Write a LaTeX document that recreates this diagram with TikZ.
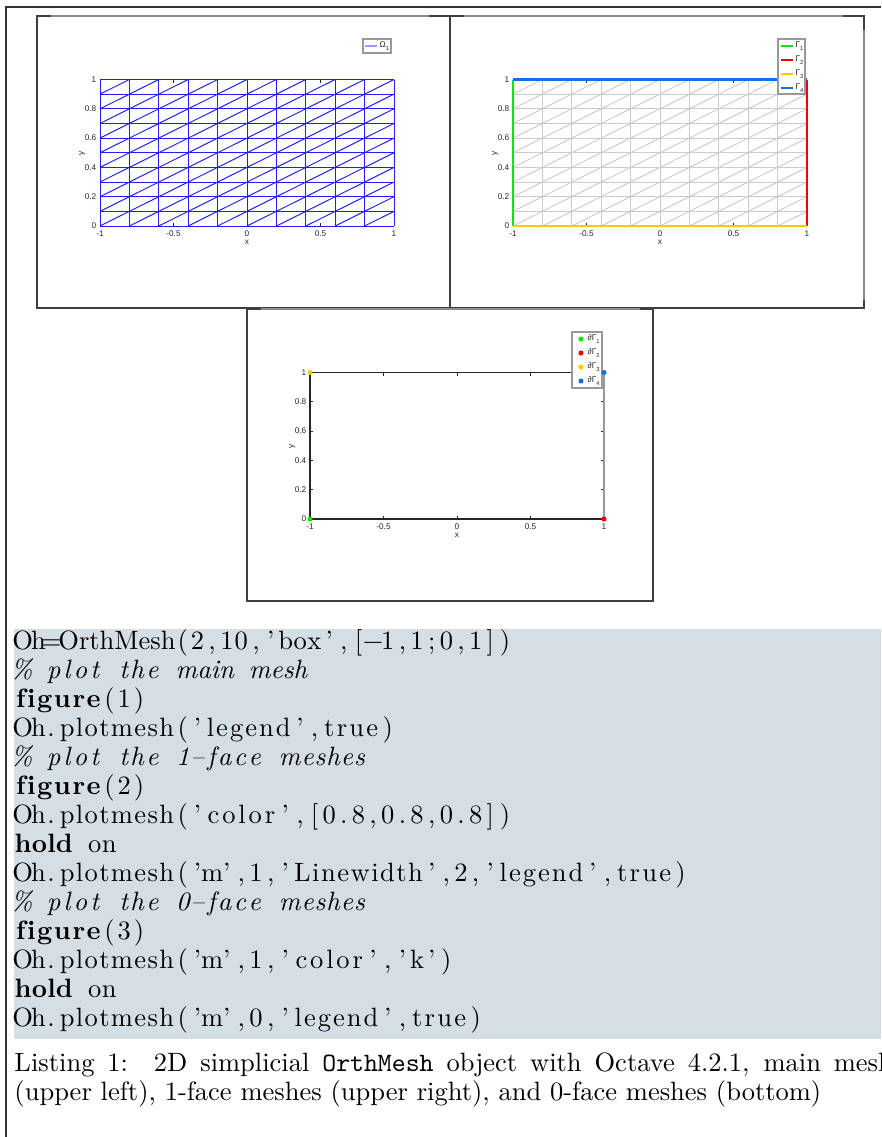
\documentclass[tikz,border=0pt]{standalone}
\usepackage{fontspec}
\usepackage{xcolor}
\usetikzlibrary{positioning}
\newfontfamily\plotfont{Liberation Sans}
\definecolor{omInk}{RGB}{38,38,38}
\definecolor{omBlue}{RGB}{30,30,255}
\definecolor{omGray}{RGB}{204,204,204}
\definecolor{omGreen}{RGB}{0,235,0}
\definecolor{omRed}{RGB}{245,0,0}
\definecolor{omGold}{RGB}{255,200,0}
\definecolor{omSky}{RGB}{20,110,235}
\definecolor{omCode}{RGB}{213,221,229}

% listings-like fixed columns: a word fills n columns, other chars one each
\ExplSyntaxOn
\dim_new:N \l_om_bw_dim
\dim_set:Nn \l_om_bw_dim { 6.05pt }
\tl_new:N \l_om_word_tl
\int_new:N \l_om_n_int
\cs_new_protected:Npn \om_flush:
  {
    \int_compare:nNnT { \l_om_n_int } > { 0 }
      { \hbox_to_wd:nn { \l_om_n_int \l_om_bw_dim } { \l_om_word_tl \hss } }
    \tl_clear:N \l_om_word_tl
    \int_zero:N \l_om_n_int
  }
\NewDocumentCommand \fixcols { m }
  {
    \tl_clear:N \l_om_word_tl
    \int_zero:N \l_om_n_int
    \str_map_inline:nn {#1}
      {
        \str_if_in:nnTF
          { abcdefghijklmnopqrstuvwxyzABCDEFGHIJKLMNOPQRSTUVWXYZ0123456789 }
          { ##1 }
          { \tl_put_right:Nn \l_om_word_tl { \hss ##1 } \int_incr:N \l_om_n_int }
          { \om_flush: \hbox_to_wd:nn { \l_om_bw_dim } { \hss ##1 \hss } }
      }
    \om_flush:
  }
\ExplSyntaxOff
\newcommand\cmtmark{\makebox[6.05pt]{\%}\hspace*{6.05pt}}

% 10x10 triangulated box, origin at its lower left corner (px units)
\newcommand\trimesh{%
  \foreach \i in {0,...,10} \draw ({29.4*\i},0) -- ({29.4*\i},-146.5);
  \foreach \j in {0,...,10} \draw (0,{-14.65*\j}) -- (294,{-14.65*\j});
  \foreach \i in {0,...,9} \foreach \j in {0,...,9}
    \draw ({29.4*\i},{-14.65*\j}) -- ({29.4*\i+29.4},{-14.65*\j-14.65});}

% ticks and tick labels of one axes: #1,#2 = px of (-1,0), #3 = prefix
\newcommand\plotaxes[3]{%
  \foreach \v [count=\k] in {-1,-0.5,0,0.5,1}{
    \draw[omInk,line width=0.3pt] ({#1+147*(\v+1)},#2) -- ++(0,-3)
         ({#1+147*(\v+1)},{#2-146.5}) -- ++(0,3);
    \node[ticklab,anchor=north] (#3x\k) at ({#1+147*(\v+1)},{#2+3}) {\v};}
  \foreach \v [count=\k] in {0,0.2,0.4,0.6,0.8,1}{
    \draw[omInk,line width=0.3pt] (#1,{#2-146.5*\v}) -- ++(3,0)
         ({#1+294},{#2-146.5*\v}) -- ++(-3,0);
    \node[ticklab,anchor=east] (#3y\k) at ({#1-2},{#2-146.5*\v}) {\v};}
  \node[ticklab,anchor=north] (#3xl) at ({#1+147},{#2+12}) {x};
  \node[ticklab,anchor=south,rotate=90] (#3yl) at ({#1-13},{#2-73}) {y};}

\begin{document}
\begin{tikzpicture}[x=0.41322pt,y=-0.41322pt,
  ticklab/.style={font=\plotfont\fontsize{3.4}{3.8}\selectfont,
                  text=omInk,inner sep=0.5pt},
  legtxt/.style={ticklab,anchor=west},
  panel/.style={draw=black!75,line width=0.45pt},
  legbox/.style={draw=black!40,line width=0.7pt,fill=white},
  bndline/.style={line width=0.85pt},
  vdot/.style={circle,fill=#1,inner sep=0pt,minimum size=2.1pt},
  code/.style={anchor=base west,inner sep=0pt,
               font=\fontsize{10.95}{12}\selectfont}]

\path[use as bounding box] (0,0) rectangle (881,1137);
\clip (0,0) rectangle (881,1137);
\fill[white] (0,0) rectangle (881,1137);

% page frame
\draw[black!80,line width=0.45pt] (881,7) -- (6,7) -- (6,1137);

% figure 1: main mesh
\draw[panel] (37,16) rectangle (450,308);
\draw[black!45,line width=0.5pt] (51,16) -- (429,16);
\plotaxes{100}{226}{a}
\begin{scope}[shift={(100,226)},omBlue,line width=0.4pt]
  \trimesh
\end{scope}
\draw[legbox] (363,39) rectangle (391,53);
\draw[omBlue!45,line width=0.6pt] (365,46) -- (377,46);
\node[legtxt] (om1) at (378,46) {Ω\textsubscript{1}};

% figure 2: 1-face meshes
\draw[panel] (450,16) rectangle (864,308);
\draw[black!45,line width=0.5pt] (464,16) -- (843,16) (864,30) -- (864,300);
\plotaxes{513}{226}{b}
\begin{scope}[shift={(513,226)},omGray,line width=0.4pt]
  \trimesh
\end{scope}
\draw[bndline,omGreen] (513,226) -- (513,79.5);
\draw[bndline,omRed] (807,226) -- (807,79.5);
\draw[bndline,omGold] (513,226) -- (807,226);
\draw[bndline,omSky] (513,79.5) -- (807,79.5);
\draw[legbox] (778,39) rectangle (805,94);
\foreach \c/\y/\k in {omGreen/46/1,omRed/60/2,omGold/74/3,omSky/88/4}{
  \draw[\c,line width=0.8pt] (781,\y) -- (793,\y);
  \node[legtxt] (ga\k) at (794,\y) {Γ\textsubscript{\k}};}

% figure 3: 0-face meshes
\draw[panel] (247,309) rectangle (653,601);
\draw[black!45,line width=0.5pt] (261,309) -- (640,309);
\plotaxes{310}{519}{c}
\draw[omInk,line width=0.45pt] (604,519) -- (310,519) -- (310,372.5) -- (604,372.5);
\draw[black!40,line width=0.9pt] (604,519) -- (604,372.5);
\draw[legbox] (572,332) rectangle (602,388);
\foreach \c/\y/\k in {omGreen/339/1,omRed/353/2,omGold/367/3,omSky/381/4}{
  \node[vdot=\c] (ld\k) at (581,\y) {};
  \node[legtxt] (dg\k) at (586,\y) {∂Γ\textsubscript{\k}};}
\node[vdot=omGreen] (v1) at (310,519) {};
\node[vdot=omRed] (v2) at (604,519) {};
\node[vdot=omGold] (v3) at (310,372.5) {};
\node[vdot=omSky] (v4) at (604,372.5) {};

% the listing
\fill[omCode] (14,629) rectangle (881,1039);
\node[code] (l1) at (14,649) {\fixcols{Oh=OrthMesh(2,10,'box',[−1,1;0,1])}};
\node[code] (l2) at (14,678) {\itshape\cmtmark\fixcols{plot the main mesh}};
\node[code] (l3) at (14,707) {\textbf{\fixcols{figure}}\fixcols{(1)}};
\node[code] (l4) at (14,736) {\fixcols{Oh.plotmesh('legend',true)}};
\node[code] (l5) at (14,765) {\itshape\cmtmark\fixcols{plot the 1–face meshes}};
\node[code] (l6) at (14,794) {\textbf{\fixcols{figure}}\fixcols{(2)}};
\node[code] (l7) at (14,823) {\fixcols{Oh.plotmesh('color',[0.8,0.8,0.8])}};
\node[code] (l8) at (14,852) {\textbf{\fixcols{hold}}\fixcols{ on}};
\node[code] (l9) at (14,881) {\fixcols{Oh.plotmesh('m',1,'Linewidth',2,'legend',true)}};
\node[code] (l10) at (14,910) {\itshape\cmtmark\fixcols{plot the 0–face meshes}};
\node[code] (l11) at (14,939) {\textbf{\fixcols{figure}}\fixcols{(3)}};
\node[code] (l12) at (14,968) {\fixcols{Oh.plotmesh('m',1,'color','k')}};
\node[code] (l13) at (14,997) {\textbf{\fixcols{hold}}\fixcols{ on}};
\node[code] (l14) at (14,1026) {\fixcols{Oh.plotmesh('m',0,'legend',true)}};

% caption
\node[code] (cap1) at (14,1071) {\makebox[363pt][s]{Listing 1:\ \ 2D simplicial \texttt{OrthMesh} object with Octave 4.2.1, main mesh}};
\node[code] (cap2) at (14,1100) {(upper left), 1-face meshes (upper right), and 0-face meshes (bottom)};
\end{tikzpicture}
\end{document}
